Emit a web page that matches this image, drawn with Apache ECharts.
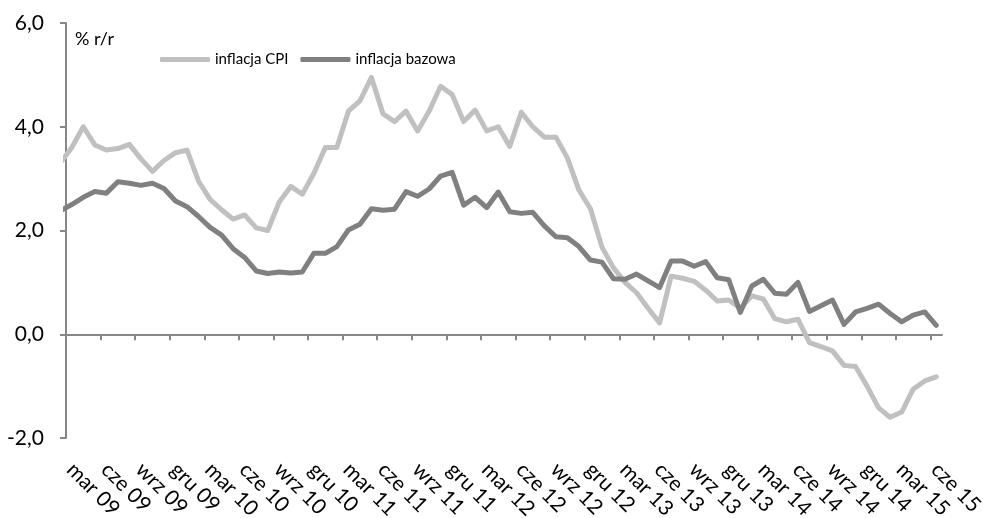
<!DOCTYPE html>
<html>
<head>
<meta charset="utf-8">
<script src="https://cdn.jsdelivr.net/npm/echarts@6/dist/echarts.min.js"></script>
<style>
  html, body { margin: 0; padding: 0; background: #ffffff; }
  #chart { width: 983px; height: 518px; }
</style>
</head>
<body>
<div id="chart"></div>
<script>
// Monthly observations, lut 09 .. cze 15
const months = [
  'lut 09','mar 09','kwi 09','maj 09','cze 09','lip 09','sie 09','wrz 09','paź 09','lis 09','gru 09',
  'sty 10','lut 10','mar 10','kwi 10','maj 10','cze 10','lip 10','sie 10','wrz 10','paź 10','lis 10','gru 10',
  'sty 11','lut 11','mar 11','kwi 11','maj 11','cze 11','lip 11','sie 11','wrz 11','paź 11','lis 11','gru 11',
  'sty 12','lut 12','mar 12','kwi 12','maj 12','cze 12','lip 12','sie 12','wrz 12','paź 12','lis 12','gru 12',
  'sty 13','lut 13','mar 13','kwi 13','maj 13','cze 13','lip 13','sie 13','wrz 13','paź 13','lis 13','gru 13',
  'sty 14','lut 14','mar 14','kwi 14','maj 14','cze 14','lip 14','sie 14','wrz 14','paź 14','lis 14','gru 14',
  'sty 15','lut 15','mar 15','kwi 15','maj 15','cze 15'
];

// CPI inflation, % y/y
const cpi = [
  3.3, 3.6, 4.0, 3.65, 3.55, 3.58, 3.66, 3.38, 3.14, 3.35, 3.5,
  3.55, 2.95, 2.6, 2.4, 2.22, 2.3, 2.05, 2.0, 2.55, 2.85, 2.7, 3.1,
  3.6, 3.6, 4.3, 4.5, 4.95, 4.25, 4.1, 4.3, 3.92, 4.3, 4.78, 4.62,
  4.1, 4.32, 3.92, 4.0, 3.62, 4.28, 4.0, 3.8, 3.8, 3.4, 2.78, 2.42,
  1.68, 1.28, 1.0, 0.8, 0.5, 0.22, 1.12, 1.08, 1.02, 0.85, 0.64, 0.66,
  0.5, 0.74, 0.68, 0.3, 0.24, 0.29, -0.16, -0.24, -0.32, -0.6, -0.62, -1.0,
  -1.42, -1.6, -1.5, -1.06, -0.9, -0.82
];

// Core inflation, % y/y
const core = [
  2.38, 2.5, 2.64, 2.75, 2.72, 2.94, 2.91, 2.87, 2.91, 2.81, 2.57,
  2.46, 2.27, 2.06, 1.91, 1.65, 1.48, 1.22, 1.17, 1.2, 1.18, 1.2, 1.56,
  1.56, 1.69, 2.01, 2.12, 2.42, 2.39, 2.41, 2.75, 2.66, 2.8, 3.05, 3.12,
  2.49, 2.64, 2.44, 2.74, 2.36, 2.33, 2.35, 2.09, 1.88, 1.86, 1.69, 1.43,
  1.39, 1.07, 1.06, 1.16, 1.03, 0.9, 1.41, 1.41, 1.31, 1.4, 1.09, 1.05,
  0.42, 0.93, 1.06, 0.79, 0.77, 1.0, 0.44, 0.55, 0.66, 0.19, 0.43, 0.5,
  0.58, 0.4, 0.24, 0.37, 0.43, 0.17
];

// Quarterly axis labels, starting at mar 09
const tickLabels = [
  'mar 09','cze 09','wrz 09','gru 09','mar 10','cze 10','wrz 10','gru 10',
  'mar 11','cze 11','wrz 11','gru 11','mar 12','cze 12','wrz 12','gru 12',
  'mar 13','cze 13','wrz 13','gru 13','mar 14','cze 14','wrz 14','gru 14',
  'mar 15','cze 15'
];

const seriesNames = ['inflacja CPI', 'inflacja bazowa'];

// Month k occupies the band [k-1, k] on the x scale (lut 09 sits just left of the plot)
const toPoints = arr => arr.map((v, k) => [k - 0.5, v]);
const tickValues = tickLabels.map((_, k) => k * 3);
const bandCount = months.length - 1;

const FONT = 'Lato, "Open Sans", sans-serif';
const AXIS_COLOR = '#878787';

const chart = echarts.init(document.getElementById('chart'), null, { renderer: 'canvas' });

chart.setOption({
  animation: false,
  backgroundColor: '#ffffff',
  color: ['#c0c0c0', '#808080'],
  grid: { left: 66, top: 23, width: 876, height: 415, containLabel: false, outerBoundsMode: 'none' },
  legend: {
    data: seriesNames,
    left: 155,
    top: 47,
    icon: 'roundRect',
    itemWidth: 50,
    itemHeight: 5,
    itemGap: 12,
    textStyle: { fontFamily: FONT, fontSize: 15, color: '#000' }
  },
  graphic: [{
    type: 'text',
    left: 75,
    top: 30,
    style: { text: '% r/r', font: '18px ' + FONT, fill: '#000' }
  }],
  xAxis: [
    {
      type: 'value',
      min: 0,
      max: bandCount,
      axisLine: { onZero: true, lineStyle: { color: AXIS_COLOR, width: 2 } },
      axisTick: { show: true, length: 6, customValues: tickValues, lineStyle: { color: AXIS_COLOR, width: 2 } },
      axisLabel: { show: false },
      splitLine: { show: false }
    },
    {
      type: 'value',
      min: 0,
      max: bandCount,
      position: 'bottom',
      axisLine: { show: false, onZero: false },
      axisTick: { show: false },
      axisLabel: {
        customValues: tickValues,
        formatter: v => tickLabels[Math.round(v / 3)],
        rotate: -45,
        margin: 24,
        padding: [0, 0, 0, 6],
        fontFamily: FONT,
        fontSize: 21,
        color: '#000'
      },
      splitLine: { show: false }
    }
  ],
  yAxis: {
    type: 'value',
    min: -2,
    max: 6,
    interval: 2,
    axisLine: { show: true, onZero: false, lineStyle: { color: AXIS_COLOR, width: 2 } },
    axisTick: { show: true, length: 6, lineStyle: { color: AXIS_COLOR, width: 2 } },
    axisLabel: {
      formatter: v => v.toFixed(1).replace('.', ','),
      margin: 22,
      fontFamily: FONT,
      fontSize: 21,
      color: '#000'
    },
    splitLine: { show: false }
  },
  series: [
    {
      name: seriesNames[0],
      type: 'line',
      xAxisIndex: 0,
      data: toPoints(cpi),
      symbol: 'none',
      clip: true,
      lineStyle: { width: 5, color: '#c0c0c0', cap: 'round', join: 'round' }
    },
    {
      name: seriesNames[1],
      type: 'line',
      xAxisIndex: 0,
      data: toPoints(core),
      symbol: 'none',
      clip: true,
      lineStyle: { width: 5, color: '#808080', cap: 'round', join: 'round' }
    }
  ]
});
</script>
</body>
</html>
